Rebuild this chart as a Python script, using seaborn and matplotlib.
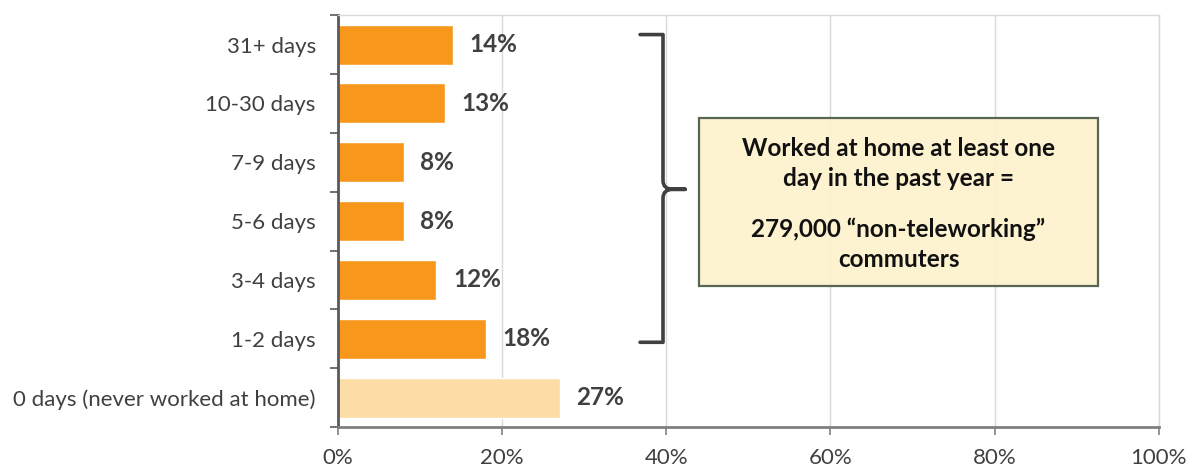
import matplotlib
matplotlib.use("Agg")
import matplotlib.pyplot as plt
from matplotlib.path import Path
from matplotlib.patches import PathPatch, Rectangle
from matplotlib.ticker import FixedLocator, PercentFormatter
import pandas as pd
import seaborn as sns

categories = ["31+ days", "10-30 days", "7-9 days", "5-6 days", "3-4 days",
              "1-2 days", "0 days (never worked at home)"]
shares = [14, 13, 8, 8, 12, 18, 27]
groups = ["home", "home", "home", "home", "home", "home", "never"]
x_ticks = [0, 20, 40, 60, 80, 100]
box_head = "Worked at home at least one\nday in the past year ="
box_tail = "279,000 \u201cnon-teleworking\u201d\ncommuters"


def main():
    df = pd.DataFrame({"category": categories, "share": shares, "group": groups})

    sns.set_style("white")
    plt.rcParams["font.family"] = ["Lato", "DejaVu Sans"]

    fig = plt.figure(figsize=(11.86, 4.68), dpi=100)
    ax = fig.add_axes([0.285, 0.0876, 0.692, 0.88])

    sns.barplot(data=df, x="share", y="category", hue="group",
                palette={"home": "#F7981D", "never": "#FDDCA6"},
                saturation=1, width=0.68, dodge=False, legend=False, ax=ax)

    ax.set_xlim(0, 100)
    ax.set_ylim(6.5, -0.5)
    ax.set_xticks(x_ticks)
    ax.xaxis.set_major_formatter(PercentFormatter(decimals=0))
    ax.grid(axis="x", color="#D9D9D9", linewidth=1)
    ax.set_axisbelow(True)
    ax.set_xlabel("")
    ax.set_ylabel("")

    for side in ["top", "right"]:
        ax.spines[side].set_color("#D9D9D9")
        ax.spines[side].set_linewidth(1)
    ax.spines["left"].set_color("#595959")
    ax.spines["left"].set_linewidth(2)
    ax.spines["bottom"].set_color("#808080")
    ax.spines["bottom"].set_linewidth(2)

    ax.tick_params(axis="x", length=6, width=1.2, color="#808080",
                   labelsize=16, labelcolor="#404040", pad=9, bottom=True)
    ax.tick_params(axis="y", which="major", length=0, labelsize=16,
                   labelcolor="#404040", pad=16)
    ax.yaxis.set_minor_locator(FixedLocator([i - 0.5 for i in range(len(categories) + 1)]))
    ax.tick_params(axis="y", which="minor", length=6, width=1.2,
                   color="#595959", left=True)

    for i, v in enumerate(shares):
        ax.text(v + 2, i, f"{v}%", va="center", ha="left", fontsize=17.5,
                fontweight="bold", color="#404040")

    # curly brace spanning the at-home categories
    bx0, bx1, tip = 36.8, 39.6, 42.3
    top, bot, mid = -0.17, 5.06, 2.46
    verts = [
        (bx0, top), (bx1, top), (bx1, top), (bx1, top + 0.15),
        (bx1, mid - 0.15), (bx1, mid), (tip - 1.5, mid), (tip, mid),
        (tip - 1.5, mid), (bx1, mid), (bx1, mid + 0.15),
        (bx1, bot - 0.15), (bx1, bot), (bx1, bot), (bx0, bot),
    ]
    codes = [Path.MOVETO, Path.CURVE3, Path.CURVE3, Path.LINETO,
             Path.LINETO, Path.CURVE3, Path.CURVE3, Path.LINETO,
             Path.LINETO, Path.CURVE3, Path.CURVE3,
             Path.LINETO, Path.CURVE3, Path.CURVE3, Path.LINETO]
    ax.add_patch(PathPatch(Path(verts, codes), facecolor="none",
                           edgecolor="#404040", linewidth=2.6,
                           capstyle="round", joinstyle="round", clip_on=False))

    ax.add_patch(Rectangle((44.0, 1.24), 48.6, 2.87, facecolor="#FDF2CC",
                           edgecolor="#4A5A44", linewidth=1.6, alpha=0.92,
                           zorder=5))
    ax.text(68.3, 2.02, box_head, ha="center", va="center", fontsize=17.5,
            fontweight="bold", color="#111111", linespacing=1.35, zorder=6)
    ax.text(68.3, 3.39, box_tail, ha="center", va="center", fontsize=17.5,
            fontweight="bold", color="#111111", linespacing=1.35, zorder=6)

    fig.savefig("out.png", dpi=100)
    plt.close(fig)


if __name__ == "__main__":
    main()
